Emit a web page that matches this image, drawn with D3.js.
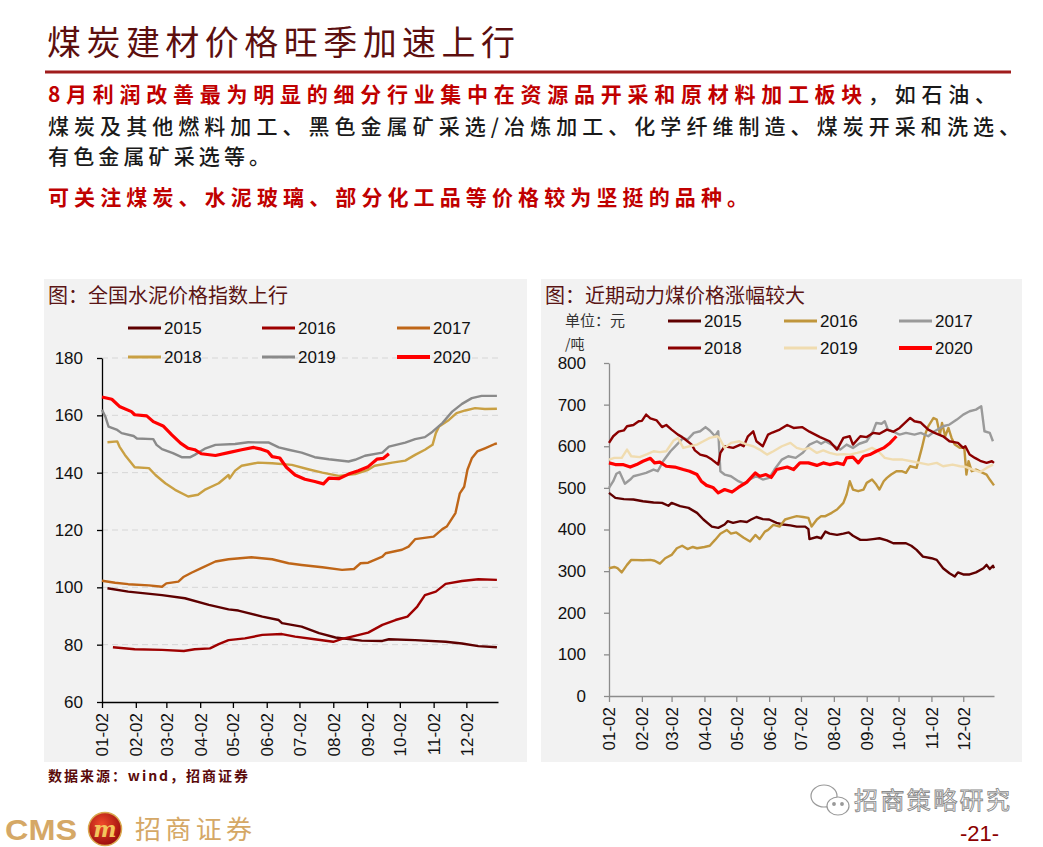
<!DOCTYPE html>
<html>
<head>
<meta charset="utf-8">
<script src="https://cdn.jsdelivr.net/npm/d3@7"></script>
<style>
  html, body { margin: 0; padding: 0; background: #fff; }
  svg { display: block; }
</style>
</head>
<body>
<div id="slide"></div>
<script>
// Tick labels shared by both charts (2nd day of every month)
const monthTicks = ['01-02', '02-02', '03-02', '04-02', '05-02', '06-02',
                    '07-02', '08-02', '09-02', '10-02', '11-02', '12-02'];
const years = ['2015', '2016', '2017', '2018', '2019', '2020'];

// Cement price index, [day of year, value]
const cement2015 = [[7,99.7],[26,98.5],[57,97.3],[78,96.2],[100,93.9],[118,92.3],[127,91.9],[149,89.8],[164,88.6],[167,87.5],[185,86.3],[201,84.0],[216,82.5],[240,81.4],[259,81.3],[265,81.9],[289,81.6],[317,81.0],[332,80.4],[347,79.5],[364,79.1]];
const cement2016 = [[12,79.1],[32,78.4],[57,78.2],[77,77.8],[87,78.4],[101,78.7],[109,80.2],[118,81.6],[133,82.2],[149,83.4],[167,83.7],[179,82.8],[197,81.9],[214,81.0],[222,82.0],[231,82.8],[246,84.2],[259,86.9],[271,88.6],[282,89.8],[291,93.3],[298,97.3],[308,98.5],[317,101.2],[332,102.2],[347,102.8],[364,102.6]];
const cement2017 = [[2,102.3],[14,101.6],[26,101.1],[45,100.7],[57,100.2],[61,101.4],[72,102.0],[77,103.7],[84,105.1],[93,106.7],[106,109.0],[118,109.8],[139,110.5],[158,109.8],[173,108.4],[185,107.8],[204,107.0],[222,106.1],[233,106.4],[239,108.4],[246,108.6],[259,110.7],[262,111.9],[277,113.1],[283,114.2],[289,116.8],[306,117.7],[314,120.3],[318,121.2],[326,125.9],[330,132.8],[334,135.1],[337,141.0],[341,145.0],[346,147.4],[353,148.5],[362,150.0],[364,150.2]];
const cement2018 = [[7,150.6],[16,150.9],[18,149.1],[23,146.2],[32,141.9],[45,141.6],[51,139.2],[60,136.3],[69,134.0],[81,131.7],[90,132.3],[97,134.2],[109,136.3],[118,139.2],[119,138.0],[124,140.7],[130,142.4],[145,143.5],[158,143.3],[176,142.7],[191,141.2],[204,140.0],[219,138.9],[234,139.5],[246,141.0],[252,142.4],[268,143.5],[280,144.2],[289,146.2],[298,148.0],[305,149.7],[308,153.8],[311,156.1],[320,158.4],[327,160.8],[335,161.7],[344,162.5],[353,162.2],[364,162.3]];
const cement2019 = [[2,161.9],[5,159.6],[8,156.1],[16,154.9],[20,153.8],[31,152.8],[34,151.9],[49,151.7],[52,149.7],[57,148.2],[67,146.8],[75,145.4],[83,145.4],[87,146.2],[97,148.5],[106,149.7],[124,150.0],[136,150.6],[155,150.5],[164,148.8],[173,148.0],[185,147.0],[197,145.4],[210,144.7],[228,143.9],[234,144.5],[243,145.9],[259,147.0],[265,149.1],[280,150.5],[289,151.7],[298,152.4],[305,154.3],[314,157.3],[323,161.3],[332,164.0],[341,166.0],[350,166.8],[364,166.8]];
const cement2020 = [[2,166.4],[11,165.6],[18,163.1],[29,161.3],[32,160.2],[43,159.8],[49,157.8],[58,156.3],[66,153.2],[74,150.3],[81,148.5],[87,148.0],[93,146.6],[106,146.0],[118,147.0],[130,148.0],[141,148.8],[148,148.2],[154,147.4],[158,145.6],[165,145.1],[171,141.9],[179,139.2],[188,137.7],[197,136.9],[205,136.1],[210,138.1],[219,137.9],[228,139.5],[237,140.7],[246,142.1],[254,144.7],[260,145.0],[265,146.6]];
const cementTicks = [60, 80, 100, 120, 140, 160, 180];

// Thermal coal price (yuan/ton), [day of year, value]
const coal2015 = [[2,488],[8,476],[16,473],[25,472],[34,468],[44,465],[52,464],[58,457],[61,464],[69,456],[77,452],[85,440],[91,424],[99,407],[105,404],[111,412],[114,420],[119,416],[126,420],[132,418],[136,424],[141,430],[147,425],[153,424],[160,416],[166,412],[173,410],[179,407],[187,407],[190,401],[191,377],[198,382],[202,379],[206,395],[210,390],[217,387],[223,390],[228,393],[232,385],[239,375],[245,375],[251,377],[257,379],[264,374],[270,367],[276,367],[282,367],[287,361],[292,351],[298,335],[306,331],[311,327],[317,307],[323,295],[328,287],[331,297],[336,292],[342,292],[348,297],[355,307],[358,315],[361,305],[364,313],[365,307]];
const coal2016 = [[2,307],[7,310],[10,307],[14,297],[19,315],[23,327],[34,326],[41,327],[45,325],[50,318],[55,331],[61,339],[66,355],[71,361],[76,353],[81,358],[85,355],[92,358],[97,361],[102,375],[107,390],[113,399],[117,390],[122,393],[129,380],[135,371],[140,387],[144,377],[149,395],[152,399],[157,411],[163,407],[168,424],[173,428],[179,432],[185,430],[190,428],[193,407],[198,424],[202,432],[206,432],[212,440],[217,448],[223,464],[226,484],[229,516],[232,496],[237,492],[242,496],[245,512],[250,520],[254,508],[257,496],[261,516],[264,524],[268,532],[273,540],[278,540],[282,536],[286,552],[292,548],[297,596],[300,628],[303,648],[308,668],[311,664],[314,628],[316,656],[319,624],[322,644],[325,620],[328,604],[333,596],[337,596],[339,532],[341,564],[344,540],[348,544],[353,538],[358,532],[361,520],[365,506]];
const coal2017 = [[2,500],[6,516],[9,534],[12,538],[17,510],[22,520],[25,528],[31,532],[37,536],[44,544],[48,540],[53,564],[60,588],[66,604],[72,620],[76,616],[82,632],[88,636],[93,646],[97,638],[102,624],[105,636],[107,540],[111,532],[117,528],[124,516],[130,509],[134,520],[141,528],[147,520],[153,524],[158,544],[165,568],[171,576],[178,572],[185,585],[191,604],[198,612],[202,606],[206,612],[212,604],[220,592],[226,604],[232,596],[238,606],[245,612],[251,636],[254,656],[259,654],[262,660],[265,640],[269,636],[276,628],[282,632],[290,628],[296,632],[303,624],[309,636],[317,648],[323,652],[330,664],[336,676],[342,684],[348,688],[353,696],[356,636],[361,632],[364,612]];
const coal2018 = [[2,608],[6,624],[11,635],[16,638],[19,648],[25,651],[30,660],[33,661],[37,676],[41,667],[47,662],[52,646],[56,651],[61,640],[67,628],[71,622],[76,612],[80,604],[83,590],[88,580],[94,576],[99,568],[105,556],[107,584],[111,600],[119,596],[126,604],[129,600],[133,624],[138,636],[141,612],[147,600],[152,628],[156,633],[163,640],[170,651],[176,644],[184,646],[191,635],[201,622],[210,612],[217,592],[223,620],[229,624],[232,604],[239,624],[245,622],[251,632],[257,630],[264,640],[270,635],[276,644],[286,668],[290,660],[296,657],[303,640],[309,632],[317,624],[323,612],[331,608],[336,596],[338,600],[342,580],[347,572],[352,565],[358,560],[363,564],[365,560]];
const coal2019 = [[2,568],[7,572],[14,572],[19,592],[23,576],[31,574],[38,581],[44,588],[50,586],[56,588],[63,614],[67,620],[72,596],[78,600],[85,604],[91,612],[97,620],[104,624],[106,620],[111,596],[117,608],[125,612],[132,604],[138,600],[144,592],[151,580],[157,588],[165,600],[173,608],[179,596],[185,592],[191,596],[198,584],[204,590],[210,584],[217,580],[223,581],[229,580],[236,584],[242,588],[250,596],[256,588],[262,572],[270,568],[279,568],[287,564],[295,560],[303,556],[311,560],[317,552],[326,556],[333,552],[339,550],[345,544],[352,538],[358,548],[364,556]];
const coal2020 = [[2,560],[8,556],[15,556],[22,550],[28,556],[34,564],[41,571],[45,560],[50,562],[56,552],[64,550],[72,544],[78,540],[85,532],[89,516],[94,506],[100,501],[105,488],[111,496],[118,490],[124,501],[132,514],[140,536],[144,528],[150,532],[155,525],[160,544],[170,550],[176,544],[182,560],[190,560],[198,554],[204,560],[210,556],[217,560],[223,556],[226,572],[232,574],[237,560],[242,576],[248,580],[254,588],[261,596],[267,608],[273,624]];
const coalTicks = [0, 100, 200, 300, 400, 500, 600, 700, 800];

const CJK = "'Noto Sans CJK SC', sans-serif";
const LATIN = "Arial, 'Liberation Sans', sans-serif";

const svg = d3.select('#slide')
    .append('svg')
    .attr('width', 1043)
    .attr('height', 847);

svg.append('rect')
    .attr('width', 1043)
    .attr('height', 847)
    .attr('fill', '#fff');

drawHeader();
drawLineChart({
    panel: { x: 44, y: 279, w: 483, h: 483 },
    title: '图：全国水泥价格指数上行',
    series: [cement2015, cement2016, cement2017, cement2018, cement2019, cement2020],
    colors: ['#5e0000', '#9e0000', '#bf6618', '#c9a043', '#8a8a8a', '#ff0000'],
    xRange: [102, 498],
    yRange: [702, 358],
    yDomain: [60, 180],
    yTicks: cementTicks,
    axisColor: '#000',
    grid: true,
    tickPadding: 14,
    legendRows: [328, 357],
    legendCols: [128, 262, 397]
});
drawLineChart({
    panel: { x: 541, y: 279, w: 481, h: 483 },
    title: '图：近期动力煤价格涨幅较大',
    series: [coal2015, coal2016, coal2017, coal2018, coal2019, coal2020],
    colors: ['#600000', '#c0963c', '#9a9a9a', '#8b0000', '#f0dcb0', '#ff0000'],
    xRange: [609, 994],
    yRange: [696, 363],
    yDomain: [0, 800],
    yTicks: coalTicks,
    axisColor: '#8c8c8c',
    grid: false,
    tickPadding: 18,
    legendRows: [321, 348],
    legendCols: [668, 784, 899],
    unit: true
});
drawFooter();

function drawHeader() {
    svg.append('text')
        .attr('x', 47)
        .attr('y', 55)
        .attr('font-family', CJK)
        .attr('font-size', 34)
        .attr('fill', '#5c0f0f')
        .attr('textLength', 468)
        .attr('lengthAdjust', 'spacing')
        .text('煤炭建材价格旺季加速上行');

    svg.append('line')
        .attr('x1', 45).attr('x2', 1011)
        .attr('y1', 72).attr('y2', 72)
        .attr('stroke', '#a01c1c')
        .attr('stroke-width', 3);

    const lines = [
        { y: 102, len: 948, parts: [['8月利润改善最为明显的细分行业集中在资源品开采和原材料加工板块', '#c00000', 700], ['，如石油、', '#1a1a1a', 500]] },
        { y: 134, len: 972, parts: [['煤炭及其他燃料加工、黑色金属矿采选/冶炼加工、化学纤维制造、煤炭开采和洗选、', '#1a1a1a', 500]] },
        { y: 164, len: 222, parts: [['有色金属矿采选等。', '#1a1a1a', 500]] },
        { y: 205, len: 700, parts: [['可关注煤炭、水泥玻璃、部分化工品等价格较为坚挺的品种。', '#c00000', 700]] }
    ];

    lines.forEach(line => {
        const t = svg.append('text')
            .attr('x', 48)
            .attr('y', line.y)
            .attr('font-family', CJK)
            .attr('font-size', 21)
            .attr('textLength', line.len)
            .attr('lengthAdjust', 'spacing');
        line.parts.forEach(p => {
            t.append('tspan')
                .attr('fill', p[1])
                .attr('font-weight', p[2])
                .text(p[0]);
        });
    });
}

function drawLineChart(opt) {
    const g = svg.append('g');
    const p = opt.panel;

    g.append('rect')
        .attr('x', p.x).attr('y', p.y)
        .attr('width', p.w).attr('height', p.h)
        .attr('fill', '#f2f2f2');

    g.append('text')
        .attr('x', p.x + 4)
        .attr('y', p.y + 24)
        .attr('font-family', CJK)
        .attr('font-size', 20)
        .attr('fill', '#5a1414')
        .text(opt.title);

    const x = d3.scaleTime()
        .domain([new Date(2019, 0, 2), new Date(2019, 11, 31)])
        .range(opt.xRange);

    const y = d3.scaleLinear()
        .domain(opt.yDomain)
        .range(opt.yRange);

    const parse = d3.timeParse('%Y-%m-%d');
    const tickDates = monthTicks.map(t => parse('2019-' + t));

    // Dashed gridlines
    if (opt.grid) {
        g.selectAll('.grid')
            .data(opt.yTicks.slice(1))
            .enter()
            .append('line')
            .attr('x1', opt.xRange[0])
            .attr('x2', opt.xRange[1])
            .attr('y1', d => y(d))
            .attr('y2', d => y(d))
            .attr('stroke', '#d6d6d6')
            .attr('stroke-dasharray', '6,4');
    }

    // Y axis
    const yAxis = g.append('g')
        .attr('transform', `translate(${opt.xRange[0]},0)`)
        .call(d3.axisLeft(y).tickValues(opt.yTicks).tickSize(5).tickPadding(opt.tickPadding).tickSizeOuter(0));

    // X axis
    const xAxis = g.append('g')
        .attr('transform', `translate(0,${opt.yRange[0]})`)
        .call(d3.axisBottom(x).tickValues(tickDates).tickFormat(d3.timeFormat('%m-%d')).tickSize(6).tickSizeOuter(0));

    xAxis.selectAll('text')
        .attr('transform', 'rotate(-90)')
        .attr('x', -11)
        .attr('y', 0)
        .attr('dy', '0.35em')
        .attr('text-anchor', 'end');

    [yAxis, xAxis].forEach(ax => {
        ax.select('.domain').attr('stroke', opt.axisColor).attr('stroke-width', 1.3);
        ax.selectAll('.tick line').attr('stroke', opt.axisColor).attr('stroke-width', 1.3);
        ax.selectAll('text')
            .attr('font-family', LATIN)
            .attr('font-size', 17)
            .attr('fill', '#111');
    });

    // Series lines
    const line = d3.line()
        .x(d => x(new Date(2019, 0, d[0])))
        .y(d => y(d[1]));

    opt.series.forEach((s, i) => {
        g.append('path')
            .datum(s)
            .attr('d', line)
            .attr('fill', 'none')
            .attr('stroke', opt.colors[i])
            .attr('stroke-width', i === 5 ? 3.2 : 2.4)
            .attr('stroke-linejoin', 'round');
    });

    // Legend, three per row
    years.forEach((yr, i) => {
        const lx = opt.legendCols[i % 3];
        const ly = opt.legendRows[Math.floor(i / 3)];
        g.append('line')
            .attr('x1', lx).attr('x2', lx + 33)
            .attr('y1', ly).attr('y2', ly)
            .attr('stroke', opt.colors[i])
            .attr('stroke-width', i === 5 ? 4 : 3);
        g.append('text')
            .attr('x', lx + 36)
            .attr('y', ly + 6)
            .attr('font-family', LATIN)
            .attr('font-size', 17)
            .attr('fill', '#111')
            .text(yr);
    });

    if (opt.unit) {
        g.append('text')
            .attr('x', p.x + 24).attr('y', p.y + 47)
            .attr('font-family', CJK).attr('font-size', 15)
            .attr('fill', '#333')
            .text('单位：元');
        g.append('text')
            .attr('x', p.x + 24).attr('y', p.y + 70)
            .attr('font-family', CJK).attr('font-size', 14)
            .attr('fill', '#333')
            .text('/吨');
    }
}

function drawFooter() {
    svg.append('text')
        .attr('x', 48)
        .attr('y', 781)
        .attr('font-family', CJK)
        .attr('font-size', 14)
        .attr('font-weight', 700)
        .attr('fill', '#5a0a0a')
        .attr('textLength', 200)
        .attr('lengthAdjust', 'spacing')
        .text('数据来源：wind，招商证券');

    // WeChat watermark
    const wm = svg.append('g')
        .attr('fill', 'none')
        .attr('stroke', '#9a9a9a')
        .attr('stroke-width', 1.2);
    wm.append('ellipse').attr('cx', 824).attr('cy', 796).attr('rx', 13).attr('ry', 11).attr('fill', '#fff');
    wm.append('ellipse').attr('cx', 838).attr('cy', 806).attr('rx', 11).attr('ry', 9).attr('fill', '#fff');
    wm.append('circle').attr('cx', 834).attr('cy', 804).attr('r', 1.3).attr('fill', '#9a9a9a');
    wm.append('circle').attr('cx', 842).attr('cy', 804).attr('r', 1.3).attr('fill', '#9a9a9a');
    svg.append('text')
        .attr('x', 854)
        .attr('y', 809)
        .attr('font-family', CJK)
        .attr('font-size', 24)
        .attr('fill', '#fff')
        .attr('stroke', '#8a8a8a')
        .attr('stroke-width', 0.9)
        .attr('textLength', 156)
        .attr('lengthAdjust', 'spacing')
        .text('招商策略研究');

    // CMS logo
    svg.append('text')
        .attr('x', 5)
        .attr('y', 840)
        .attr('font-family', LATIN)
        .attr('font-size', 30)
        .attr('font-weight', 700)
        .attr('fill', '#d5a866')
        .attr('textLength', 72)
        .attr('lengthAdjust', 'spacingAndGlyphs')
        .text('CMS');

    const grad = svg.append('defs')
        .append('radialGradient')
        .attr('id', 'logoGrad')
        .attr('cx', '40%').attr('cy', '35%').attr('r', '65%');
    grad.append('stop').attr('offset', '0%').attr('stop-color', '#f04a2a');
    grad.append('stop').attr('offset', '100%').attr('stop-color', '#9c0e0e');

    svg.append('circle')
        .attr('cx', 105).attr('cy', 829).attr('r', 16.5)
        .attr('fill', 'url(#logoGrad)')
        .attr('stroke', '#d9a94f')
        .attr('stroke-width', 1.5);
    svg.append('text')
        .attr('x', 105).attr('y', 837)
        .attr('text-anchor', 'middle')
        .attr('font-family', "'DejaVu Serif', serif")
        .attr('font-size', 22)
        .attr('font-weight', 700)
        .attr('font-style', 'italic')
        .attr('fill', '#f3c55c')
        .text('m');

    svg.append('text')
        .attr('x', 135)
        .attr('y', 839)
        .attr('font-family', CJK)
        .attr('font-size', 26)
        .attr('fill', '#d5a866')
        .attr('textLength', 117)
        .attr('lengthAdjust', 'spacing')
        .text('招商证券');

    svg.append('text')
        .attr('x', 960)
        .attr('y', 841)
        .attr('font-family', "'Liberation Sans Narrow', Arial, sans-serif")
        .attr('font-size', 22)
        .attr('fill', '#8b0000')
        .text('-21-');
}
</script>
</body>
</html>
